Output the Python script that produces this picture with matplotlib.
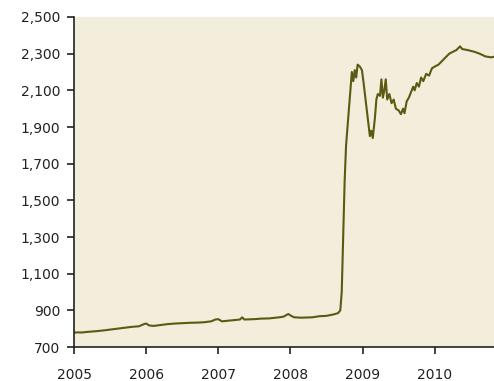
import matplotlib.pyplot as plt
from matplotlib.ticker import FuncFormatter

# balance sheet level (x in fractional years)
years = [2005.00, 2005.05, 2005.10, 2005.20, 2005.30, 2005.40, 2005.50, 2005.60, 2005.70,
         2005.80, 2005.90, 2005.97, 2006.00, 2006.04, 2006.10, 2006.20, 2006.30, 2006.40,
         2006.50, 2006.60, 2006.70, 2006.80, 2006.90, 2006.96, 2007.00, 2007.05, 2007.10,
         2007.20, 2007.30, 2007.33, 2007.36, 2007.50, 2007.60, 2007.70, 2007.80, 2007.90,
         2007.97, 2008.00, 2008.05, 2008.15, 2008.30, 2008.40, 2008.50, 2008.60, 2008.66,
         2008.69, 2008.71, 2008.73, 2008.75, 2008.77, 2008.80, 2008.83, 2008.85, 2008.87,
         2008.89, 2008.91, 2008.93, 2008.96, 2008.99, 2009.01, 2009.04, 2009.07, 2009.10,
         2009.12, 2009.14, 2009.17, 2009.19, 2009.21, 2009.24, 2009.26, 2009.28, 2009.30,
         2009.32, 2009.34, 2009.37, 2009.40, 2009.43, 2009.46, 2009.50, 2009.53, 2009.56,
         2009.58, 2009.61, 2009.64, 2009.67, 2009.70, 2009.72, 2009.75, 2009.78, 2009.81,
         2009.84, 2009.88, 2009.92, 2009.96, 2010.00, 2010.05, 2010.10, 2010.15, 2010.20,
         2010.25, 2010.30, 2010.35, 2010.38, 2010.45, 2010.55, 2010.62, 2010.70, 2010.78,
         2010.85]
values = [778, 780, 779, 783, 786, 790, 795, 800, 805,
          810, 813, 825, 828, 818, 815, 820, 825, 828,
          830, 832, 833, 835, 840, 850, 852, 840, 842,
          846, 850, 862, 850, 852, 855, 856, 860, 865,
          880, 872, 862, 860, 862, 868, 870, 878, 885,
          900, 1000, 1300, 1600, 1800, 1950, 2100, 2200, 2150,
          2210, 2170, 2240, 2230, 2210, 2150, 2050, 1950, 1850,
          1880, 1840, 1950, 2050, 2080, 2070, 2160, 2060, 2100,
          2160, 2050, 2080, 2030, 2050, 2000, 1990, 1970, 2000,
          1975, 2040, 2060, 2090, 2120, 2100, 2140, 2120, 2170,
          2150, 2190, 2180, 2220, 2230, 2240, 2260, 2280, 2300,
          2310, 2320, 2340, 2325, 2320, 2310, 2300, 2285, 2280,
          2285]

year_ticks = [2005, 2006, 2007, 2008, 2009, 2010]
value_ticks = [700, 900, 1100, 1300, 1500, 1700, 1900, 2100, 2300, 2500]

fig = plt.figure(figsize=(4.94, 3.81), dpi=100)
ax = fig.add_axes([0.1498, 0.0892, 0.8502, 0.8662])
ax.set_facecolor('#f3eddb')

ax.plot(years, values, color='#5b5a12', linewidth=1.5)

ax.set_xlim(2005, 2010.82)
ax.set_ylim(700, 2500)
ax.set_xticks(year_ticks)
ax.set_yticks(value_ticks)
ax.yaxis.set_major_formatter(FuncFormatter(lambda v, p: f'{int(v):,}'))

for s in ['top', 'right']:
    ax.spines[s].set_visible(False)
for s in ['left', 'bottom']:
    ax.spines[s].set_color('#222222')
    ax.spines[s].set_linewidth(1.2)

ax.tick_params(axis='y', direction='out', length=5, width=1.2, pad=5,
               labelsize=10, colors='#222222')
ax.tick_params(axis='x', direction='out', length=5, width=1.2, pad=10,
               labelsize=10, colors='#222222')

fig.savefig('out.png', dpi=100)
